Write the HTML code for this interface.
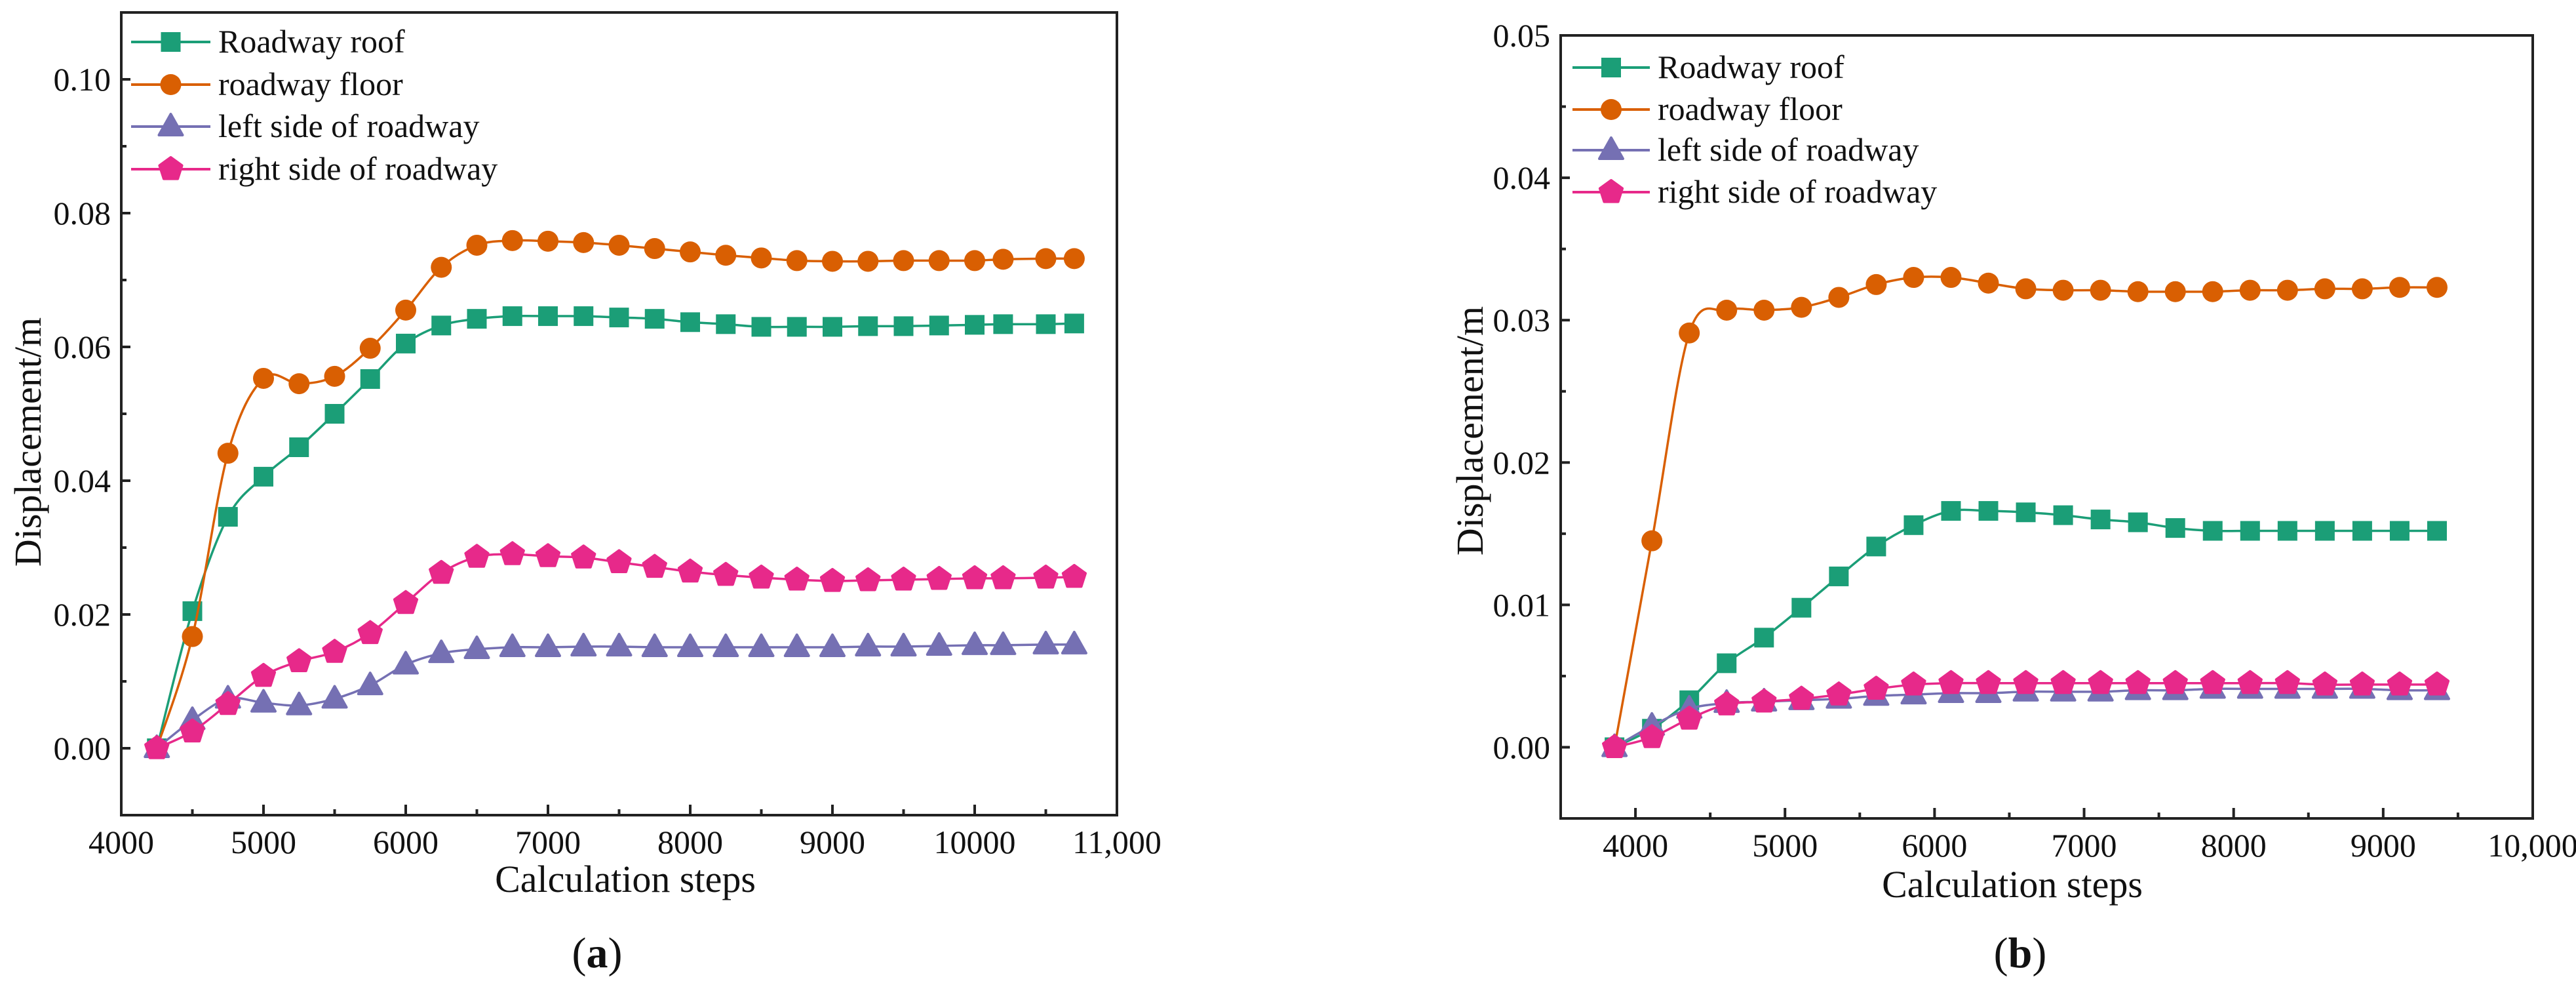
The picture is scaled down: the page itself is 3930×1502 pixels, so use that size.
<!DOCTYPE html>
<html><head><meta charset="utf-8"><style>
html,body{margin:0;padding:0;background:#fff;}
svg{display:block;font-family:"Liberation Serif",serif;}
</style></head><body>
<svg id="fig" width="3930" height="1502" viewBox="0 0 3930 1502" xmlns="http://www.w3.org/2000/svg"></svg>
<script>
const seriesNames = ["Roadway roof","roadway floor","left side of roadway","right side of roadway"];
const seriesColors = ["#1b9e77","#d95f02","#7570b3","#e7298a"];
const seriesKeys = ["roof","floor","left","right"];

const aSteps = [4250,4500,4750,5000,5250,5500,5750,6000,6250,6500,6750,7000,7250,7500,7750,8000,8250,8500,8750,9000,9250,9500,9750,10000,10200,10500,10700];
const aRoof = [0,0.0205,0.0346,0.0406,0.045,0.050,0.0552,0.0605,0.0632,0.0642,0.0646,0.0646,0.0646,0.0644,0.0642,0.0637,0.0634,0.063,0.063,0.063,0.0631,0.0631,0.0632,0.0633,0.0634,0.0634,0.0635];
const aFloor = [0,0.0167,0.0441,0.0553,0.0545,0.0556,0.0598,0.0655,0.0719,0.0752,0.0759,0.0758,0.0756,0.0752,0.0747,0.0742,0.0737,0.0733,0.0729,0.0728,0.0728,0.0729,0.0729,0.0729,0.0731,0.0732,0.0732];
const aLeft = [0,0.0042,0.0074,0.0068,0.0064,0.0074,0.0094,0.0125,0.0142,0.0148,0.0151,0.0151,0.0152,0.0152,0.0151,0.0151,0.0151,0.0151,0.0151,0.0151,0.0152,0.0152,0.0153,0.0154,0.0154,0.0155,0.0155];
const aRight = [0,0.0025,0.0066,0.0108,0.0130,0.0144,0.0172,0.0217,0.0262,0.0286,0.029,0.0287,0.0285,0.0278,0.0271,0.0264,0.0259,0.0255,0.0252,0.025,0.0251,0.0252,0.0253,0.0254,0.0254,0.0255,0.0256];
const aXTicks = [4000,5000,6000,7000,8000,9000,10000,11000];
const aXTickLabels = ["4000","5000","6000","7000","8000","9000","10000","11,000"];
const aYTicks = [0,0.02,0.04,0.06,0.08,0.10];
const aYTickLabels = ["0.00","0.02","0.04","0.06","0.08","0.10"];

const bSteps = [3860,4110,4360,4610,4860,5110,5360,5610,5860,6110,6360,6610,6860,7110,7360,7610,7860,8110,8360,8610,8860,9110,9360];
const bRoof = [0,0.0013,0.0033,0.0059,0.0077,0.0098,0.012,0.0141,0.0156,0.0166,0.0166,0.0165,0.0163,0.016,0.0158,0.0154,0.0152,0.0152,0.0152,0.0152,0.0152,0.0152,0.0152];
const bFloor = [0,0.0145,0.0291,0.0307,0.0307,0.0309,0.0316,0.0325,0.033,0.033,0.0326,0.0322,0.0321,0.0321,0.032,0.032,0.032,0.0321,0.0321,0.0322,0.0322,0.0323,0.0323];
const bLeft = [0,0.0015,0.0027,0.0031,0.0032,0.0033,0.0034,0.0036,0.0037,0.0038,0.0038,0.0039,0.0039,0.0039,0.004,0.004,0.0041,0.0041,0.0041,0.0041,0.0041,0.004,0.004];
const bRight = [0,0.0007,0.002,0.003,0.0032,0.0034,0.0037,0.0041,0.0044,0.0045,0.0045,0.0045,0.0045,0.0045,0.0045,0.0045,0.0045,0.0045,0.0045,0.0044,0.0044,0.0044,0.0044];
const bXTicks = [4000,5000,6000,7000,8000,9000,10000];
const bXTickLabels = ["4000","5000","6000","7000","8000","9000","10,000"];
const bYTicks = [0,0.01,0.02,0.03,0.04,0.05];
const bYTickLabels = ["0.00","0.01","0.02","0.03","0.04","0.05"];

const NS="http://www.w3.org/2000/svg";
const svg=document.getElementById('fig');
function mk(tag,attrs,parent){const e=document.createElementNS(NS,tag);for(const k in attrs)e.setAttribute(k,attrs[k]);(parent||svg).appendChild(e);return e;}

function smoothPath(pts){
  let d="M"+pts[0][0]+","+pts[0][1];
  for(let i=0;i<pts.length-1;i++){
    const p0=pts[Math.max(0,i-1)],p1=pts[i],p2=pts[i+1],p3=pts[Math.min(pts.length-1,i+2)];
    const c1x=p1[0]+(p2[0]-p0[0])/6,c1y=p1[1]+(p2[1]-p0[1])/6;
    const c2x=p2[0]-(p3[0]-p1[0])/6,c2y=p2[1]-(p3[1]-p1[1])/6;
    d+=" C"+c1x+","+c1y+" "+c2x+","+c2y+" "+p2[0]+","+p2[1];
  }
  return d;
}
function marker(kind,cx,cy,color,g){
  const s=15;let e;
  if(kind===0){e=mk('rect',{x:cx-s,y:cy-s,width:2*s,height:2*s,fill:color},g);}
  else if(kind===1){e=mk('circle',{cx:cx,cy:cy,r:s+1,fill:color},g);}
  else if(kind===2){e=mk('polygon',{points:`${cx},${cy-s-4} ${cx+s+3},${cy+s-2} ${cx-s-3},${cy+s-2}`,fill:color,'stroke':color,'stroke-width':4,'stroke-linejoin':'round'},g);}
  else {const pts=[];for(let k=0;k<5;k++){const a=-Math.PI/2+k*2*Math.PI/5;pts.push((cx+(s+3)*Math.cos(a)).toFixed(1)+","+(cy+(s+3)*Math.sin(a)).toFixed(1));}
    e=mk('polygon',{points:pts.join(' '),fill:color,stroke:color,'stroke-width':4,'stroke-linejoin':'round'},g);}
  return e;
}

function drawChart(cfg){
  const g=mk('g',{});
  
  
  const X=v=>cfg.L+(v-cfg.x0)/(cfg.x1-cfg.x0)*(cfg.R-cfg.L);
  const Y=v=>cfg.B-(v-cfg.y0)/(cfg.y1-cfg.y0)*(cfg.B-cfg.T);
  // series
  cfg.series.forEach((vals,si)=>{
    const sg=mk('g',{},g);
    
    
    const pts=cfg.steps.map((s,i)=>[X(s),Y(vals[i])]);
    mk('path',{d:smoothPath(pts),fill:'none',stroke:seriesColors[si],'stroke-width':3.5},sg);
    pts.forEach(p=>{const m=marker(si,p[0],p[1],seriesColors[si],sg);
      
      });
  });
  // frame
  const fr=mk('rect',{x:cfg.L,y:cfg.T,width:cfg.R-cfg.L,height:cfg.B-cfg.T,fill:'none',stroke:'#222','stroke-width':4},g);
  
  
  // x ticks
  cfg.xTicks.forEach((t,i)=>{
    mk('line',{x1:X(t),x2:X(t),y1:cfg.B,y2:cfg.B-16,stroke:'#222','stroke-width':4},g);
    const tx=mk('text',{x:X(t),y:cfg.B+58,'font-size':50,'text-anchor':'middle',fill:'#111'},g);
    tx.textContent=cfg.xLabels[i];
    
    
    const h=X(t)+(X(t+1000)-X(t))/2;
    if(t+500<cfg.x1) mk('line',{x1:h,x2:h,y1:cfg.B,y2:cfg.B-9,stroke:'#222','stroke-width':4},g);
  });
  if(cfg.x0%1000!==0){const h=X(cfg.x0+500);}
  cfg.yTicks.forEach((t,i)=>{
    mk('line',{x1:cfg.L,x2:cfg.L+14,y1:Y(t),y2:Y(t),stroke:'#222','stroke-width':4},g);
    const ty=mk('text',{x:cfg.L-16,y:Y(t)+17,'font-size':50,'text-anchor':'end',fill:'#111'},g);
    ty.textContent=cfg.yLabels[i];
    
    
  });
  cfg.yMinor.forEach(t=>{mk('line',{x1:cfg.L,x2:cfg.L+8,y1:Y(t),y2:Y(t),stroke:'#222','stroke-width':4},g);});
  const xt=mk('text',{x:cfg.xtx,y:cfg.xty,'font-size':58,'text-anchor':'middle',fill:'#111'},g);
  xt.textContent="Calculation steps";
  
  
  const yt=mk('text',{x:0,y:0,'font-size':58,'text-anchor':'middle',fill:'#111',transform:`translate(${cfg.ytx},${cfg.yty}) rotate(-90)`},g);
  yt.textContent="Displacement/m";
  
  
  // legend
  const lg=mk('g',{},g);
  
  
  seriesNames.forEach((n,i)=>{
    const y=cfg.legY[i];
    const eg=mk('g',{},lg);
    
    
    mk('line',{x1:cfg.legX0,x2:cfg.legX1,y1:y,y2:y,stroke:seriesColors[i],'stroke-width':4},eg);
    marker(i,(cfg.legX0+cfg.legX1)/2,y,seriesColors[i],eg);
    const t=mk('text',{x:cfg.legX1+12,y:y+16,'font-size':50,fill:'#111'},eg);
    t.textContent=n;
  });
  const cap=mk('text',{x:cfg.capX,y:cfg.capY,'font-size':66,'text-anchor':'middle',fill:'#111'},g);
  cap.innerHTML='(<tspan font-weight="bold">'+cfg.cap+'</tspan>)';
  
  
}

drawChart({name:'chart-a',L:185,R:1704,T:19,B:1243,x0:4000,x1:11000,y0:-0.01,y1:0.11,
  steps:aSteps,series:[aRoof,aFloor,aLeft,aRight],xTicks:aXTicks,xLabels:aXTickLabels,
  yTicks:aYTicks,yLabels:aYTickLabels,yMinor:[-0.01,0.01,0.03,0.05,0.07,0.09],
  xtx:954,xty:1360,ytx:62,yty:674,legX0:200,legX1:321,legY:[64,129,193,258],
  capX:911,capY:1475,cap:'a'});
drawChart({name:'chart-b',L:2381,R:3864,T:54,B:1248,x0:3500,x1:10000,y0:-0.005,y1:0.05,
  steps:bSteps,series:[bRoof,bFloor,bLeft,bRight],xTicks:bXTicks,xLabels:bXTickLabels,
  yTicks:bYTicks,yLabels:bYTickLabels,yMinor:[0.005,0.015,0.025,0.035,0.045],
  xtx:3070,xty:1368,ytx:2262,yty:657,legX0:2399,legX1:2517,legY:[103,167,229,293],
  capX:3082,capY:1475,cap:'b'});
</script>
</body></html>
